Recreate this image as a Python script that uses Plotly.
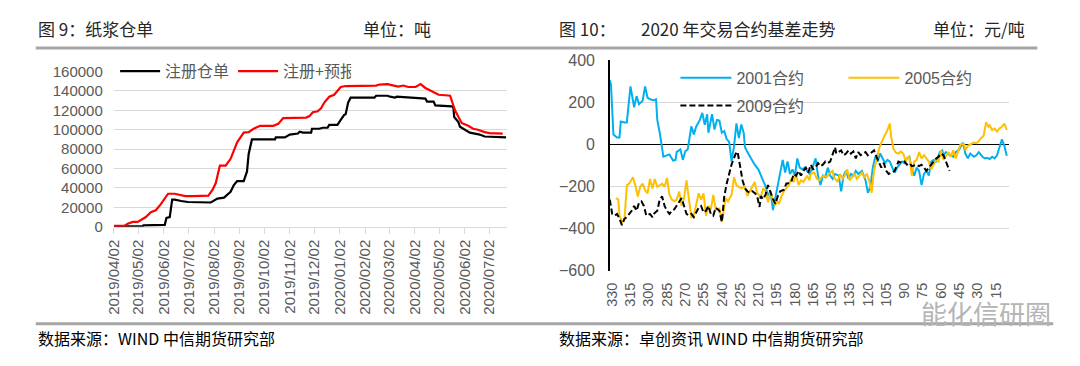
import plotly.graph_objects as go

# ---------------- data: left chart (纸浆仓单, 吨) ----------------
reg_dates = ["2019-04-02", "2019-05-07", "2019-05-08", "2019-06-03", "2019-06-05", "2019-06-09",
             "2019-06-12", "2019-06-15", "2019-06-23", "2019-06-27", "2019-07-01", "2019-07-29",
             "2019-07-31", "2019-08-06", "2019-08-14", "2019-08-18", "2019-08-22", "2019-08-26",
             "2019-08-30", "2019-09-07", "2019-09-11", "2019-09-13", "2019-09-17", "2019-10-15",
             "2019-10-16", "2019-10-27", "2019-11-02", "2019-11-12", "2019-11-14", "2019-11-18",
             "2019-11-28", "2019-11-29", "2019-12-08", "2019-12-12", "2019-12-18", "2019-12-20",
             "2019-12-30", "2020-01-03", "2020-01-07", "2020-01-09", "2020-01-12", "2020-01-15",
             "2020-02-13", "2020-02-15", "2020-02-29", "2020-03-03", "2020-03-09", "2020-03-11",
             "2020-03-25", "2020-04-07", "2020-04-15", "2020-04-17", "2020-04-25", "2020-04-27",
             "2020-05-17", "2020-05-19", "2020-05-20", "2020-05-23", "2020-05-25", "2020-05-27",
             "2020-06-02", "2020-06-08", "2020-06-14", "2020-06-20", "2020-06-26", "2020-07-04",
             "2020-07-22"]
reg_values = [300, 300, 1500, 2000, 9000, 10000,
              28000, 28000, 26500, 26000, 25500, 25000,
              26000, 29000, 30000, 33000, 36000, 43000,
              47000, 47000, 57000, 75000, 90000, 90000,
              92000, 92000, 95000, 96000, 98000, 97000,
              97000, 101000, 101000, 102000, 102000, 105000,
              105000, 110000, 115000, 116000, 128000, 133000,
              133000, 135000, 135000, 134000, 133000, 134000,
              133000, 132500, 132000, 129000, 129000, 125000,
              124000, 123000, 113000, 110000, 108000, 103000,
              100000, 97000, 96000, 95000, 93000, 92500,
              92000]

fc_dates = ["2019-04-02", "2019-04-15", "2019-04-19", "2019-04-25", "2019-05-01", "2019-05-07",
            "2019-05-11", "2019-05-17", "2019-05-23", "2019-05-29", "2019-06-07", "2019-06-15",
            "2019-06-23", "2019-06-28", "2019-07-08", "2019-07-16", "2019-07-26", "2019-07-31",
            "2019-08-04", "2019-08-09", "2019-08-16", "2019-08-22", "2019-08-30", "2019-09-07",
            "2019-09-13", "2019-09-19", "2019-09-27", "2019-10-13", "2019-10-19", "2019-10-25",
            "2019-11-22", "2019-11-26", "2019-11-30", "2019-12-06", "2019-12-10", "2019-12-14",
            "2019-12-20", "2019-12-26", "2019-12-30", "2020-01-03", "2020-01-09", "2020-02-15",
            "2020-02-19", "2020-02-29", "2020-03-05", "2020-03-13", "2020-03-19", "2020-03-25",
            "2020-04-03", "2020-04-09", "2020-04-15", "2020-04-25", "2020-05-01", "2020-05-09",
            "2020-05-15", "2020-05-21", "2020-05-29", "2020-06-06", "2020-06-12", "2020-06-18",
            "2020-06-26", "2020-07-02", "2020-07-18"]
fc_values = [1000, 1000, 3000, 5000, 5000, 8000,
             10000, 15000, 17000, 23000, 34000, 34000,
             32000, 31500, 31500, 32000, 32000, 38000,
             45000, 63000, 63000, 70000, 87000, 97000,
             97500, 101000, 104000, 104000, 106000, 112000,
             112500, 114000, 118000, 119000, 122000, 128000,
             134000, 136000, 140000, 144000, 145000, 145500,
             146500, 147000, 146000, 144500, 145500, 144000,
             144000, 147000, 143000, 139000, 136000, 135500,
             135000, 120000, 107000, 104000, 101000, 100000,
             97500, 96500, 96000]

left_tick_dates = ["2019-04-02", "2019-05-02", "2019-06-02", "2019-07-02", "2019-08-02",
                   "2019-09-02", "2019-10-02", "2019-11-02", "2019-12-02", "2020-01-02",
                   "2020-02-02", "2020-03-02", "2020-04-02", "2020-05-02", "2020-06-02",
                   "2020-07-02"]
left_tick_text = [d.replace("-", "/") for d in left_tick_dates]
left_y_ticks = [0, 20000, 40000, 60000, 80000, 100000, 120000, 140000, 160000]
left_y_text = [str(v) for v in left_y_ticks]

# ---------------- data: right chart (基差, 元/吨) ----------------
d2001 = [332, 331, 329, 326, 324, 323, 320, 318, 315, 312, 310, 308, 305, 303, 301, 299, 296, 294,
         293, 291, 288, 285, 283, 280, 278, 277, 274, 272, 270, 268, 267, 265, 263, 261, 258, 256,
         254, 252, 251, 248, 246, 244, 242, 240, 238, 236, 234, 232, 230, 228, 226, 224, 222, 221,
         219, 216, 213, 210, 208, 206, 204, 202, 200, 198, 196, 194, 192, 190, 188, 186, 184, 182,
         180, 178, 176, 174, 172, 170, 168, 166, 163, 161, 159, 157, 155, 153, 151, 149, 147, 144,
         142, 140, 138, 136, 134, 132, 130, 128, 125, 122, 120, 118, 116, 114, 112, 110, 108, 106,
         104, 102, 100, 98, 96, 94, 92, 90, 88, 86, 84, 82, 80, 78, 76, 74, 72, 70, 68, 66, 64, 61,
         59, 58, 56, 53, 50, 48, 45, 42, 40, 38, 36, 33, 31, 29, 26, 24, 22, 20, 18, 16, 14, 12, 10,
         8, 6]
v2001 = [306, 283, 48, 33, 33, 109, 105, 105, 276, 177, 230, 192, 208, 276, 223, 215, 211, 215,
         117, 56, -58, -53, -47, -76, -73, -35, -23, -73, -32, -23, 11, 86, 48, 86, 117, 150,
         94, 144, 56, 144, 71, 117, 114, 56, 64, 26, 12, -80, -10, 100, 30, 95, 55, -13,
         -36, -66, -96, -118, -148, -178, -200, -245, -222, -312, -252, -200, -125, -73, -133, -81, -140, -118,
         -148, -66, -110, -118, -110, -125, -140, -118, -66, -148, -193, -148, -155, -110, -148, -163, -140, -148,
         -222, -148, -125, -163, -140, -148, -125, -140, -125, -170, -230, -200, -110, -58, -81, -43, -66, -88,
         -73, -81, -110, -133, -110, -96, -81, -88, -66, -58, -118, -148, -110, -125, -193, -140, -125, -148, -81, -73, -81, -36,
         -28, -51, -36, -51, -58, -36, -24, 9, -43, -66, -43, -58, -51, -36, -58, -66, -63, -69, -58, -66, -51, -13, 24,
         -6, -54]

d2005 = [327, 325, 324, 322, 320, 318, 316, 313, 311, 309, 307, 305, 303, 301, 299, 297, 295, 293,
         291, 289, 287, 285, 283, 281, 279, 277, 275, 273, 271, 269, 267, 265, 263, 261, 259, 257,
         255, 253, 251, 249, 247, 245, 242, 240, 239, 237, 235, 232, 230, 228, 226, 224, 221, 219,
         217, 215, 213, 211, 208, 206, 204, 202, 200, 198, 196, 195, 193, 191, 189, 187, 185, 183,
         181, 179, 177, 175, 173, 170, 168, 167, 164, 162, 160, 158, 156, 154, 152, 149, 148, 145,
         143, 141, 139, 137, 135, 133, 131, 129, 127, 125, 123, 121, 119, 117, 115, 113, 111, 109,
         107, 104, 102, 101, 99, 97, 95, 93, 91, 89, 88, 86, 84, 82, 80, 78, 76, 74, 72, 70, 68, 66,
         64, 62, 60, 58, 56, 54, 52, 50, 48, 46, 44, 41, 40, 38, 35, 33, 31, 29, 27, 25, 23, 21, 20,
         18, 16, 14, 12, 10, 8, 6]
v2005 = [-255, -262, -338, -368, -361, -194, -186, -156, -194, -247, -201, -186, -217, -232, -164, -209, -164, -201,
         -194, -186, -201, -159, -239, -262, -270, -262, -224, -292, -255, -171, -262, -345, -338, -292, -232, -262,
         -232, -338, -292, -308, -239, -308, -305, -368, -338, -255, -270, -239, -156, -194, -201, -208, -200, -245,
         -222, -200, -178, -230, -252, -208, -222, -275, -222, -267, -290, -267, -282, -245, -222, -208, -193, -163,
         -178, -140, -193, -170, -178, -148, -170, -140, -133, -163, -170, -155, -148, -155, -140, -125, -155, -178,
         -140, -163, -148, -118, -170, -155, -140, -163, -148, -133, -155, -140, -170, -230, -125, -66, -21, 9,
         31, 69, 99, 39, -21, -39, -43, -33, -43, -81, -66, -58, -148, -81, -73, -36, -66, -51, -66, -81, -118, -96,
         -73, -81, -28, -73, -51, -36, -58, -28, -66, -28, 1, 1, -28, -6, 1, 9, 6, 16, 31, 42, 106, 84, 91,
         69, 76, 61, 76, 84, 99, 69]

d2009 = [332, 331, 330, 328, 326, 324, 322, 320, 318, 316, 314, 312, 310, 308, 306, 304, 302, 299,
         297, 296, 293, 291, 289, 287, 285, 283, 281, 279, 277, 275, 273, 271, 269, 267, 265, 263,
         261, 259, 257, 255, 253, 251, 249, 247, 245, 242, 240, 239, 238, 236, 234, 232, 230, 228,
         227, 226, 224, 223, 221, 219, 217, 215, 213, 211, 209, 208, 206, 204, 202, 200, 198, 196,
         194, 192, 189, 187, 186, 183, 181, 179, 177, 175, 173, 171, 169, 167, 165, 163, 161, 159,
         157, 155, 153, 151, 149, 147, 146, 144, 142, 140, 138, 136, 134, 132, 130, 128, 126, 124,
         122, 120, 118, 117, 115, 113, 111, 109, 107, 105, 103, 101, 98, 96, 95, 92, 90, 88, 86, 84,
         82, 80, 78, 76, 74, 72, 70, 68, 66, 64, 62, 60, 58, 56, 54, 53]
v2009 = [-262, -292, -330, -338, -330, -353, -383, -353, -345, -330, -315, -292, -315, -277, -270, -292, -338, -330,
         -345, -330, -315, -262, -247, -292, -315, -330, -315, -308, -292, -270, -255, -292, -330, -338, -330, -345,
         -323, -300, -292, -323, -315, -292, -330, -338, -300, -315, -368, -292, -247, -186, -141, -95, -65, -35,
         -36, -66, -125, -170, -208, -222, -230, -222, -230, -245, -297, -245, -260, -237, -193, -230, -260, -282,
         -245, -222, -215, -185, -185, -178, -140, -148, -125, -148, -125, -110, -133, -96, -118, -110, -88, -103,
         -96, -81, -88, -81, -51, -13, -43, -36, -28, -51, -43, -28, -43, -33, -66, -36, -51, -43,
         -36, -51, -43, -36, -28, -58, -81, -110, -88, -125, -140, -133, -125, -96, -81, -88, -81, -96, -88, -103,
         -99, -96, -103, -96, -110, -125, -110, -96, -81, -66, -58, -43, -51, -81, -110, -125]

right_x_ticks = [330, 315, 300, 285, 270, 255, 240, 225, 210, 195, 180, 165, 150, 135, 120, 105,
                 90, 75, 60, 45, 30, 15]
right_y_ticks = [-600, -400, -200, 0, 200, 400]

# ---------------- layout helpers (pixel -> paper) ----------------
W, H = 1080, 366


def px(x):
    return x / W


def py(y):
    return 1 - y / H


TICK = "#595959"
GRID = "#D9D9D9"
NUMFONT = "Liberation Sans, Arial, Noto Sans CJK SC, sans-serif"
CJK = "Noto Sans CJK SC, sans-serif"

fig = go.Figure()

fig.add_trace(go.Scatter(x=reg_dates, y=reg_values, name="注册仓单", mode="lines",
                         line=dict(color="#000000", width=2.2), xaxis="x", yaxis="y",
                         legend="legend"))
fig.add_trace(go.Scatter(x=fc_dates, y=fc_values, name="注册+预报", mode="lines",
                         line=dict(color="#FF0000", width=2.2), xaxis="x", yaxis="y",
                         legend="legend"))

fig.add_trace(go.Scatter(x=d2001, y=v2001, name="2001合约", mode="lines",
                         line=dict(color="#00B0F0", width=2), xaxis="x2", yaxis="y2",
                         legend="legend2"))
fig.add_trace(go.Scatter(x=d2005, y=v2005, name="2005合约", mode="lines",
                         line=dict(color="#FFC000", width=2), xaxis="x2", yaxis="y2",
                         legend="legend2"))
fig.add_trace(go.Scatter(x=d2009, y=v2009, name="2009合约", mode="lines",
                         line=dict(color="#000000", width=2, dash="6px,3px"), xaxis="x2", yaxis="y2",
                         legend="legend3"))

fig.update_layout(
    width=W, height=H,
    margin=dict(l=0, r=0, t=0, b=0),
    paper_bgcolor="white", plot_bgcolor="white",
    font=dict(family=NUMFONT, color=TICK),
    hovermode=False,
    xaxis=dict(domain=[px(105.7), px(502)], type="date",
               range=["2019-04-02", "2020-07-23"],
               tickmode="array", tickvals=left_tick_dates, ticktext=left_tick_text,
               tickangle=-90, tickfont=dict(size=15, color=TICK, family=NUMFONT),
               showgrid=False, zeroline=False, showline=True, linecolor=GRID, linewidth=1,
               ticks="outside", ticklen=6, tickcolor=GRID, anchor="y"),
    yaxis=dict(domain=[py(229), py(65.7)], range=[0, 160000],
               tickmode="array", tickvals=left_y_ticks, ticktext=left_y_text,
               tickfont=dict(size=15, color=TICK, family=NUMFONT),
               showgrid=True, gridcolor=GRID, gridwidth=1, zeroline=False, showline=False,
               ticks="", ticklabelstandoff=10, anchor="x"),
    xaxis2=dict(domain=[px(605.7), px(1008)], range=[332.1, 4.5],
                tickmode="array", tickvals=right_x_ticks,
                tickangle=-90, tickfont=dict(size=14.5, color=TICK, family=NUMFONT),
                showgrid=False, zeroline=False, showline=False, ticks="", anchor="y2",
                ticklabelstandoff=8),
    yaxis2=dict(domain=[py(275.3), py(54)], range=[-600, 400],
                tickmode="array", tickvals=right_y_ticks,
                tickfont=dict(size=16, color=TICK, family=NUMFONT),
                showgrid=True, gridcolor=GRID, gridwidth=1,
                zeroline=True, zerolinecolor="#000000", zerolinewidth=1.5,
                showline=True, linecolor="#000000", linewidth=1.5,
                ticks="", ticklabelstandoff=10, anchor="x2"),
    legend=dict(orientation="h", x=px(107), y=py(65.5), xanchor="left", yanchor="middle",
                itemwidth=40, entrywidth=63, entrywidthmode="pixels",
                font=dict(size=16, color=TICK, family=CJK), bgcolor="rgba(0,0,0,0)"),
    legend2=dict(orientation="h", x=px(672), y=py(72.3), xanchor="left", yanchor="middle",
                 itemwidth=51, entrywidth=102, entrywidthmode="pixels",
                 font=dict(size=16, color=TICK, family=NUMFONT), bgcolor="rgba(0,0,0,0)"),
    legend3=dict(orientation="h", x=px(672), y=py(101.7), xanchor="left", yanchor="middle",
                 itemwidth=51, entrywidthmode="pixels",
                 font=dict(size=16, color=TICK, family=NUMFONT), bgcolor="rgba(0,0,0,0)"),
)

# header / footer rules
fig.add_shape(type="line", xref="paper", yref="paper", x0=px(27), x1=px(1037), y0=py(41), y1=py(41),
              line=dict(color="#A6A6A6", width=3))
fig.add_shape(type="line", xref="paper", yref="paper", x0=px(27), x1=px(1053), y0=py(331), y1=py(331),
              line=dict(color="#A6A6A6", width=3))


def note(text, x, y, size=17, color="#262626", family=CJK, anchor="left"):
    fig.add_annotation(text=text, x=px(x), y=py(y), xref="paper", yref="paper",
                       xanchor=anchor, yanchor="middle", showarrow=False,
                       font=dict(size=size, color=color, family=family))


note("图 9：纸浆仓单", 27, 20)
note("单位：吨", 355, 20)
note("图 10：", 553, 20)
note("2020 年交易合约基差走势", 635, 20)
note("单位：元/吨", 930, 20)
note("数据来源：WIND 中信期货研究部", 27, 346, size=16, color="#000000")
note("数据来源：卓创资讯 WIND 中信期货研究部", 553, 346, size=16, color="#000000")
note("能化信研圈", 918, 319, size=26, color="#B5B5B5")

# remove the browser's default page margin so the 1080x366 figure fills the window exactly
fig.write_html("out.html",
               config={"displayModeBar": False, "staticPlot": True},
               post_script="document.body.style.margin='0';document.body.style.overflow='hidden';")
